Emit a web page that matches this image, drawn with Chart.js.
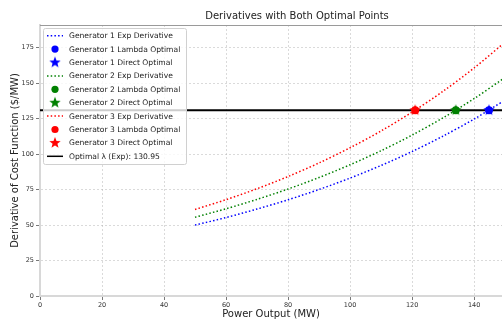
<!DOCTYPE html>
<html>
<head>
<meta charset="utf-8">
<script src="https://cdn.jsdelivr.net/npm/chart.js@4.4.1/dist/chart.umd.min.js"></script>
<style>
html,body{margin:0;padding:0;background:#fff;overflow:hidden;}
canvas{display:block;}
</style>
</head>
<body>
<canvas id="c" width="502" height="322"></canvas>
<script>
// ---- data ----
const powerGrid = [50, 60, 70, 80, 90, 100, 110, 120, 130, 140, 150];
const gen1Deriv = [50.0, 55.3, 61.3, 67.8, 75.1, 83.1, 92.0, 101.8, 112.7, 124.7, 138.1];
const gen2Deriv = [55.5, 61.5, 68.1, 75.4, 83.5, 92.5, 102.4, 113.4, 125.6, 139.1, 154.1];
const gen3Deriv = [61.0, 67.9, 75.6, 84.2, 93.8, 104.5, 116.3, 129.6, 144.3, 160.7, 178.9];
const optimalP = [144.8, 134.1, 121.0];   // Gen1, Gen2, Gen3
const lambdaOpt = 130.95;
const xTickStep = 20, yTickStep = 25;
const xMin = 0, xMax = 149, yMin = 0, yMax = 191;
const titleText = 'Derivatives with Both Optimal Points';
const xTitle = 'Power Output (MW)';
const yTitle = 'Derivative of Cost Function ($/MW)';

const FONT = "'DejaVu Sans', sans-serif";
const colors = ['#0000ff', '#008000', '#ff0000'];

function makeStar(color, R) {
  const s = Math.ceil(2 * R + 2);
  const cv = document.createElement('canvas');
  cv.width = s; cv.height = s;
  const g = cv.getContext('2d');
  g.fillStyle = color;
  g.beginPath();
  const r = R * 0.42;
  for (let i = 0; i < 10; i++) {
    const ang = -Math.PI / 2 + i * Math.PI / 5;
    const rr = i % 2 === 0 ? R : r;
    const px = s / 2 + rr * Math.cos(ang), py = s / 2 + rr * Math.sin(ang);
    if (i === 0) g.moveTo(px, py); else g.lineTo(px, py);
  }
  g.closePath();
  g.fill();
  return cv;
}

const derivs = [gen1Deriv, gen2Deriv, gen3Deriv];
const datasets = [];
for (let k = 0; k < 3; k++) {
  datasets.push({
    label: `Generator ${k + 1} Exp Derivative`,
    kind: 'dotted',
    data: powerGrid.map((x, i) => ({x, y: derivs[k][i]})),
    showLine: true, borderColor: colors[k], borderWidth: 1.5,
    borderDash: [1.5, 2.2], pointRadius: 0, tension: 0.3, order: 10
  });
  datasets.push({
    label: `Generator ${k + 1} Lambda Optimal`,
    kind: 'circle',
    data: [{x: optimalP[k], y: lambdaOpt}],
    pointStyle: 'circle', pointRadius: 4, backgroundColor: colors[k],
    borderColor: colors[k], borderWidth: 0, order: 2
  });
  datasets.push({
    label: `Generator ${k + 1} Direct Optimal`,
    kind: 'star',
    data: [{x: optimalP[k], y: lambdaOpt}],
    pointStyle: makeStar(colors[k], 6), pointRadius: 6,
    backgroundColor: colors[k], borderColor: colors[k], order: 1
  });
}
datasets.push({
  label: `Optimal λ (Exp): ${lambdaOpt.toFixed(2)}`,
  kind: 'solid',
  data: [{x: xMin, y: lambdaOpt}, {x: xMax, y: lambdaOpt}],
  showLine: true, borderColor: '#000', borderWidth: 2, pointRadius: 0, order: 5
});

const decor = {
  id: 'decor',
  afterDraw(chart) {
    const ctx = chart.ctx, a = chart.chartArea;
    ctx.save();
    // top spine
    ctx.strokeStyle = '#9a9a9a'; ctx.lineWidth = 1.2;
    ctx.beginPath(); ctx.moveTo(a.left, a.top + 0.5); ctx.lineTo(a.right, a.top + 0.5); ctx.stroke();
    // title
    ctx.fillStyle = '#222'; ctx.font = `10px ${FONT}`;
    ctx.textAlign = 'center'; ctx.textBaseline = 'middle';
    ctx.fillText(titleText, 297, 16);
    // legend
    const bx = 43, by = 28, bw = 143, bh = 136;
    ctx.fillStyle = 'rgba(255,255,255,0.8)';
    ctx.strokeStyle = '#d0d0d0'; ctx.lineWidth = 1;
    ctx.beginPath();
    if (ctx.roundRect) ctx.roundRect(bx + 0.5, by + 0.5, bw, bh, 2); else ctx.rect(bx + 0.5, by + 0.5, bw, bh);
    ctx.fill(); ctx.stroke();
    ctx.font = `7.6px ${FONT}`; ctx.textAlign = 'left'; ctx.textBaseline = 'middle';
    chart.data.datasets.forEach((ds, i) => {
      const y = 35.7 + i * 13.4;
      const cx = 55;
      if (ds.kind === 'dotted' || ds.kind === 'solid') {
        ctx.save();
        ctx.strokeStyle = ds.borderColor; ctx.lineWidth = 1.5;
        ctx.setLineDash(ds.kind === 'dotted' ? [1.5, 2.2] : []);
        ctx.beginPath(); ctx.moveTo(47, y); ctx.lineTo(63, y); ctx.stroke();
        ctx.restore();
      } else if (ds.kind === 'circle') {
        ctx.fillStyle = ds.backgroundColor;
        ctx.beginPath(); ctx.arc(cx, y, 3.6, 0, Math.PI * 2); ctx.fill();
      } else if (ds.kind === 'star') {
        const st = ds.pointStyle;
        ctx.drawImage(st, cx - st.width / 2, y - st.height / 2);
      }
      ctx.fillStyle = '#222';
      ctx.fillText(ds.label, 69, y + 0.5);
    });
    ctx.restore();
  }
};

new Chart(document.getElementById('c'), {
  type: 'scatter',
  data: {datasets},
  plugins: [decor],
  options: {
    responsive: false, maintainAspectRatio: false, animation: false,
    layout: {autoPadding: false, padding: {top: 25, left: 0, right: 0, bottom: 0}},
    plugins: {legend: {display: false}, title: {display: false}, tooltip: {enabled: false}},
    scales: {
      x: {
        type: 'linear', min: xMin, max: xMax,
        afterFit(s) { s.height = 26; s.paddingLeft = 0; s.paddingRight = 0; },
        ticks: {stepSize: xTickStep, includeBounds: false, padding: 1,
                font: {family: FONT, size: 6.5}, color: '#333', maxRotation: 0},
        grid: {color: 'rgba(170,170,170,0.55)', lineWidth: 0.8, tickLength: 4,
               tickColor: '#555', tickBorderDash: [], tickWidth: 0.8},
        border: {color: '#d8d8d8', width: 2, dash: [2, 2]},
        title: {display: true, text: xTitle, font: {family: FONT, size: 10}, color: '#222',
                padding: {top: 0, bottom: 2}}
      },
      y: {
        type: 'linear', min: yMin, max: yMax,
        afterFit(s) { s.width = 40; s.paddingTop = 0; s.paddingBottom = 0; },
        ticks: {stepSize: yTickStep, includeBounds: false, padding: 2,
                font: {family: FONT, size: 6.5}, color: '#333'},
        grid: {color: 'rgba(170,170,170,0.55)', lineWidth: 0.8, tickLength: 4,
               tickColor: '#555', tickBorderDash: [], tickWidth: 0.8},
        border: {color: '#d8d8d8', width: 2, dash: [2, 2]},
        title: {display: true, text: yTitle, font: {family: FONT, size: 10}, color: '#222',
                padding: {top: 9, bottom: 0}}
      }
    }
  }
});
</script>
</body>
</html>
